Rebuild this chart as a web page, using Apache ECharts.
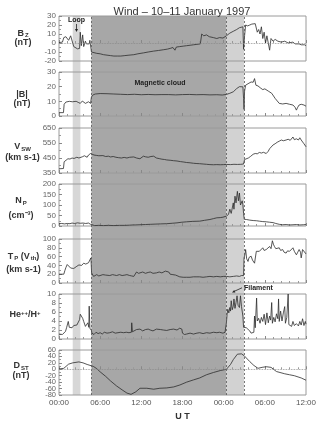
<!DOCTYPE html>
<html>
<head>
<meta charset="utf-8">
<script src="https://cdn.jsdelivr.net/npm/echarts@6/dist/echarts.min.js"></script>
<style>
html, body { margin: 0; padding: 0; background: #fff; }
#chart { width: 320px; height: 428px; }
</style>
</head>
<body>
<div id="chart"></div>
<script>
// time axis: hours from 00:00 UT, 10 January 1997
var xTickLabels = ['00:00', '06:00', '12:00', '18:00', '00:00', '06:00', '12:00'];
var dstTicks = [-80, -60, -40, -20, 0, 20, 40, 60];
var loopBand = [2.0, 3.12];
var cloudBand = [4.72, 24.4];
var sheathBand = [24.4, 26.97];

// Bz (nT)
var bz = [[0,0.5],[0.5,1],[0.7,6],[1.0,7],[1.2,8],[1.4,3],[1.7,8],[1.95,10],[2.15,-4],[2.4,-6],[2.7,-6.5],[3.0,-6],[3.1,12],[3.25,-3],[3.45,9],[3.6,-4],[3.85,2],[4.0,-1],[4.2,1],[4.4,-1],[4.5,3],[4.68,2],[4.73,-10],[5.0,-11],[5.5,-11.5],[6,-12],[6.5,-13],[7,-13.5],[7.5,-14],[8,-14.5],[8.5,-14.5],[9,-14.5],[9.6,-14],[10.2,-13.5],[10.9,-13],[11.5,-12],[12.3,-11],[13,-10],[13.8,-9],[14.5,-8.3],[15.2,-7.5],[15.8,-6.8],[16.2,-6],[16.6,-5],[16.7,-4],[16.9,-8],[17.1,-4.5],[17.6,-4],[18.1,-3.5],[18.6,-3],[19.1,-2.5],[19.6,-2],[20.1,-1.5],[20.6,-1],[20.8,10],[21.1,8],[21.5,9],[21.9,7],[22.5,6],[23.0,5],[23.4,6],[23.9,5.5],[24.4,8],[24.9,11],[25.4,13],[25.9,15],[26.3,17],[26.8,18],[26.9,-7],[27.05,8],[27.2,20],[27.5,19],[27.8,20],[28.1,21],[28.3,22],[28.6,21.5],[28.8,22],[28.9,12],[29.1,15],[29.3,10],[29.5,18],[29.7,5],[29.9,12],[30.1,0],[30.3,8],[30.5,10],[30.7,-8],[30.9,5],[31.2,2],[31.5,4],[31.7,5],[31.9,2],[32.1,3],[32.4,1],[32.6,3],[32.9,2],[33.1,2],[33.4,0],[33.6,1],[34.1,1],[34.4,-1],[34.6,0],[35.0,-1],[35.3,-2],[35.5,-1],[35.8,-2],[36,-3]];

// |B| (nT)
var bMag = [[0,2.3],[0.65,2.3],[0.75,8],[1.0,9.5],[1.2,9],[1.5,10],[1.7,9],[1.95,9.7],[2.2,9],[2.5,10],[2.8,9.3],[3.1,8.6],[3.4,10.2],[3.6,9],[3.85,8.6],[4.1,9.5],[4.3,9.7],[4.6,8.6],[4.73,13],[5.0,14.5],[5.3,15],[6,15.3],[7,15.2],[8,15],[9,14.8],[10,14.6],[11,14.8],[12,14.5],[13,14.7],[14,14.5],[15,14.6],[16,14.6],[17,14.4],[18,14.6],[19,14.7],[20,14.5],[21,14.6],[22,14.4],[23,14.5],[23.8,14.3],[24.4,14.7],[24.9,15.5],[25.4,16.5],[25.9,18.7],[26.3,20],[26.8,19.9],[26.9,12],[26.97,4.5],[27.05,17],[27.2,21],[27.55,22],[27.8,21],[28.0,23.2],[28.3,23],[28.5,25.5],[28.7,21],[29.0,20.5],[29.2,20],[29.4,19],[29.7,18],[30.0,18.5],[30.2,17.6],[30.5,17],[30.7,16.5],[31.0,15.5],[31.2,14.2],[31.5,12],[31.7,10.8],[32.1,8.6],[32.6,8.2],[33.1,8.6],[33.6,8],[34.1,7.5],[34.4,6],[34.6,4],[34.8,6],[35.0,7.5],[35.3,8],[35.5,8.6],[35.7,7.5],[36,6.7]];

// Vsw (km s-1)
var vsw = [[0,378],[0.65,380],[0.75,425],[1.0,438],[1.3,445],[1.6,443],[1.9,450],[2.2,447],[2.6,455],[2.9,450],[3.1,450],[3.4,458],[3.7,465],[3.85,472],[4.1,455],[4.3,470],[4.6,480],[4.8,478],[5.1,470],[5.5,467],[5.8,465],[6.0,462],[6.4,466],[6.8,460],[7.2,462],[7.5,457],[7.9,460],[8.3,455],[8.7,452],[9.1,450],[9.5,454],[9.9,450],[10.3,455],[10.9,457],[11.3,450],[11.8,445],[12.0,450],[12.3,462],[12.6,458],[13.0,455],[13.4,460],[13.8,462],[14.0,456],[14.2,450],[14.6,446],[15.0,442],[15.4,440],[15.7,437],[16.2,435],[16.7,432],[17.2,430],[17.7,426],[18.2,423],[18.6,420],[19.1,418],[19.6,415],[20.1,413],[20.5,412],[21.0,410],[21.5,408],[22.0,406],[22.5,405],[23.0,406],[23.5,405],[24.0,406],[24.4,407],[25.0,406],[25.5,408],[26.0,407],[26.5,408],[26.9,410],[27.05,440],[27.3,445],[27.6,450],[27.9,460],[28.1,470],[28.3,475],[28.6,480],[28.9,478],[29.2,487],[29.5,483],[29.8,488],[30.2,480],[30.5,495],[30.7,512],[30.9,520],[31.2,537],[31.5,545],[31.8,555],[32.1,562],[32.4,570],[32.7,565],[33.1,570],[33.4,575],[33.7,568],[34.1,590],[34.3,572],[34.6,578],[34.9,570],[35.1,585],[35.3,570],[35.5,575],[35.7,545],[36,525]];

// Np (cm-3)
var np = [[0,11],[0.4,12],[0.8,10],[1.2,12],[1.6,11],[1.9,14],[2.3,12],[2.7,15],[3.1,13],[3.5,14],[3.9,12],[4.3,14],[4.6,8],[4.72,3],[5.2,2],[5.8,3],[6.5,2],[7.2,3],[8.0,2],[8.8,3],[9.6,3],[10.3,4],[10.8,5],[10.9,11],[11.1,5],[11.8,6],[12.6,7],[13.3,8],[14.0,9],[14.8,10],[15.7,11],[16.5,13],[17.2,15],[17.9,18],[18.6,20],[19.5,22],[20.5,23],[21.2,27],[22.0,31],[22.5,35],[23.0,39],[23.5,40],[23.9,42],[24.4,47],[24.7,55],[24.9,80],[25.1,60],[25.4,110],[25.5,80],[25.65,142],[25.8,110],[26.0,165],[26.15,120],[26.3,157],[26.45,100],[26.6,93],[26.7,120],[26.8,101],[26.9,60],[27.0,32],[27.3,31],[27.8,28],[28.3,26],[28.8,25],[29.2,23],[29.7,21],[30.2,20],[30.7,18],[31.2,16],[31.6,12],[32.1,8],[32.6,6],[33.1,7],[33.6,5],[34.1,6],[34.6,7],[35.1,5],[35.6,6],[36,7]];

// Tp (Vth) (km s-1)
var tp = [[0,20],[0.7,20],[0.85,28],[1.0,35],[1.2,42],[1.4,38],[1.7,34],[1.9,36],[2.15,33],[2.4,35],[2.6,38],[2.9,41],[3.1,43],[3.3,40],[3.6,45],[3.9,43],[4.1,42],[4.3,46],[4.5,45],[4.65,57],[4.75,23],[5.05,15],[5.3,17],[5.5,19],[5.8,16],[6.0,17],[6.4,19],[6.8,18],[7.0,20],[7.4,17],[7.8,19],[8.1,18],[8.4,17],[8.8,19],[9.2,17],[9.6,18],[9.9,19],[10.3,17],[10.6,16],[10.9,15],[11.1,19],[11.3,25],[11.6,22],[11.8,23],[12.2,25],[12.6,22],[13.0,24],[13.3,25],[13.7,22],[14.2,23],[14.6,25],[15.0,23],[15.2,25],[15.5,27],[15.7,28],[16.0,25],[16.2,20],[16.6,19],[17.0,18],[17.2,19],[17.6,14],[18.1,13],[18.6,13],[19.1,13],[19.6,14],[20.1,14],[20.5,14],[21.0,13],[21.5,14],[22.0,15],[22.5,14],[23.0,15],[23.5,14],[24.0,15],[24.4,15],[24.9,14],[25.4,15],[25.9,16],[26.3,15],[26.6,17],[26.9,17],[26.97,57],[27.1,65],[27.2,76],[27.35,55],[27.55,49],[27.7,58],[28.0,61],[28.2,52],[28.5,45],[28.76,72],[29.0,68],[29.2,72],[29.4,75],[29.7,80],[29.9,74],[30.2,76],[30.4,72],[30.7,83],[30.9,78],[31.1,96],[31.25,88],[31.4,83],[31.6,78],[31.8,82],[32.1,80],[32.3,74],[32.6,76],[32.8,70],[33.1,68],[33.3,73],[33.6,72],[33.8,76],[34.1,80],[34.3,72],[34.6,64],[34.8,70],[35.0,76],[35.2,70],[35.3,57],[35.4,66],[35.5,76],[35.7,72],[35.9,68],[36,66]];

// He++/H+ (%)
var heRatio = [[0,1.1],[0.5,1.0],[0.7,1.2],[0.95,1.7],[1.1,2.5],[1.2,2.8],[1.35,3.9],[1.5,2.6],[1.7,2.8],[1.9,2.5],[2.15,3],[2.4,2.8],[2.6,3.1],[2.8,3.4],[3.0,4.3],[3.1,5.5],[3.3,5.1],[3.45,4.6],[3.6,3.9],[3.85,2.8],[4.0,2.4],[4.2,3.6],[4.35,2.6],[4.4,7.3],[4.5,2.4],[4.72,1.9],[4.8,1.3],[5.1,1.0],[5.4,1.5],[5.7,1.2],[6.0,1.4],[6.3,1.1],[6.6,1.5],[7.0,1.3],[7.4,1.4],[7.8,1.6],[8.2,1.3],[8.6,1.4],[9.0,1.5],[9.4,1.4],[9.8,1.5],[10.2,1.4],[10.55,1.5],[10.6,3.6],[10.7,1.6],[10.9,1.9],[11.3,2.1],[11.8,2.2],[12.2,1.8],[12.6,2.1],[13.0,2.2],[13.3,2.0],[13.7,1.8],[14.2,2.2],[14.8,2.1],[15.2,2.0],[15.7,1.9],[16.2,2.1],[16.7,2.2],[17.2,2.0],[17.6,2.4],[17.9,2.2],[18.0,1.3],[18.3,1.0],[18.6,1.1],[19.1,1.3],[19.6,1.1],[20.1,1.3],[20.5,1.4],[21.0,1.2],[21.5,1.4],[22.0,1.3],[22.5,1.5],[23.0,1.4],[23.4,1.5],[23.9,1.3],[24.2,1.5],[24.4,3.6],[24.5,5.5],[24.6,6.6],[24.75,5.8],[24.9,7.0],[25.0,6.2],[25.1,8.5],[25.25,6.5],[25.4,7.3],[25.5,8.9],[25.65,6.8],[25.8,8.1],[25.95,9.6],[26.1,7.5],[26.3,7.0],[26.45,9.6],[26.6,7.2],[26.8,5.1],[26.9,2.6],[27.1,2.8],[27.3,2.5],[27.55,2.7],[27.8,1.8],[28.0,1.3],[28.2,1.7],[28.4,1.5],[28.5,5.1],[28.6,2.5],[28.8,9.1],[28.9,4.0],[29.1,4.6],[29.3,3.5],[29.5,4.8],[29.7,3.9],[29.9,5.5],[30.1,3.2],[30.3,5.8],[30.5,3.6],[30.7,5.1],[30.85,4.2],[31.0,8.1],[31.1,3.5],[31.3,4.8],[31.5,3.8],[31.7,5.6],[31.9,4.5],[32.0,8.9],[32.1,3.9],[32.3,6.2],[32.5,4.0],[32.7,5.8],[32.9,7.2],[33.0,3.5],[33.2,4.8],[33.4,10],[33.5,3.2],[33.7,3.6],[33.9,2.8],[34.1,3.9],[34.3,3.0],[34.6,3.4],[34.9,2.9],[35.1,3.9],[35.3,3.1],[35.5,4.5],[35.7,3.0],[35.9,3.9],[36,3.3]];

// Dst (nT)
var dst = [[0,1],[0.7,3],[1.4,16],[2.0,20],[2.9,23],[3.5,20],[4.1,15],[5.0,9],[5.5,2],[6.0,-8],[6.8,-22],[7.5,-36],[8.4,-52],[9.2,-64],[9.9,-74],[10.5,-78],[11.2,-70],[11.8,-59],[12.8,-59],[13.8,-62],[14.7,-59],[15.7,-58],[16.7,-55],[17.6,-49],[18.6,-40],[19.6,-33],[20.5,-27],[21.5,-17],[22.5,-10],[23.5,-4],[24.4,0],[25.0,15],[25.4,30],[26.0,47],[26.6,48],[27.0,42],[27.8,24],[28.4,12],[29.0,3],[29.6,6],[30.2,8],[30.9,6],[31.7,-7],[32.9,-14],[33.6,-17],[34.3,-20],[35.3,-27],[36,-34]];

var chart = echarts.init(document.getElementById('chart'));

var FONT = '"Liberation Sans", Arial, sans-serif';
var LEFT = 59, WIDTH = 247;

// panel layout (pixels) and axis ranges
var panels = [
    { data: bz,      min: -20, max: 30,  step: 10,  top: 16,  height: 45, zero: true },
    { data: bMag,    min: 0,   max: 30,  step: 10,  top: 72,  height: 44 },
    { data: vsw,     min: 350, max: 650, step: 100, top: 128, height: 45 },
    { data: np,      min: 0,   max: 200, step: 50,  top: 184, height: 42 },
    { data: tp,      min: 0,   max: 100, step: 20,  top: 239, height: 44 },
    { data: heRatio, min: 0,   max: 10,  step: 2,   top: 294, height: 45 },
    { data: dst,     min: -80, max: 60,  step: 20,  top: 350, height: 45, zero: true }
];

var grids = [{ left: LEFT, width: WIDTH, top: 16, height: 379, show: false }];
var xAxes = [{ gridIndex: 0, type: 'value', min: 0, max: 36, show: false }];
var yAxes = [{ gridIndex: 0, type: 'value', min: 0, max: 1, show: false }];
var series = [{
    type: 'line', xAxisIndex: 0, yAxisIndex: 0, data: [], silent: true, z: 1,
    markArea: {
        silent: true,
        data: [
            [{ xAxis: loopBand[0], itemStyle: { color: '#d7d7d7' } }, { xAxis: loopBand[1] }],
            [{ xAxis: cloudBand[0], itemStyle: { color: '#a7a7a7' } }, { xAxis: cloudBand[1] }],
            [{ xAxis: sheathBand[0], itemStyle: { color: '#d2d2d2' } }, { xAxis: sheathBand[1] }]
        ]
    },
    markLine: {
        silent: true, symbol: 'none', animation: false,
        label: { show: false },
        lineStyle: { type: [2, 2], color: '#555', width: 0.8 },
        data: [{ xAxis: cloudBand[0] }, { xAxis: cloudBand[1] }, { xAxis: sheathBand[1] }]
    }
}];

function yLabel(extra) {
    var l = { margin: 3, fontSize: 8, color: '#666', fontFamily: FONT, showMinLabel: true, showMaxLabel: true };
    for (var k in extra) l[k] = extra[k];
    return l;
}

panels.forEach(function (p, i) {
    var g = i + 1;
    var last = i === panels.length - 1;
    grids.push({
        left: LEFT, width: WIDTH, top: p.top, height: p.height,
        show: true, borderColor: '#9a9a9a', borderWidth: 1, z: 2
    });
    xAxes.push({
        gridIndex: g, type: 'value', min: 0, max: 36, interval: 6, z: 2,
        axisLine: { show: false },
        axisTick: { show: true, inside: true, length: 3, lineStyle: { color: '#888' } },
        minorTick: { show: true, splitNumber: 5, length: 2, lineStyle: { color: '#999' } },
        splitLine: { show: false },
        axisLabel: {
            show: last, margin: 4, fontSize: 8, color: '#555', fontFamily: FONT,
            formatter: function (v) { return xTickLabels[Math.round(v / 6)]; }
        },
        name: last ? 'U T' : '',
        nameLocation: 'middle', nameGap: 17,
        nameTextStyle: { fontSize: 9, fontWeight: 'bold', color: '#333', fontFamily: FONT }
    });
    yAxes.push({
        gridIndex: g, type: 'value', min: p.min, max: p.max, interval: p.step, z: 2,
        axisLine: { show: false },
        axisTick: { show: true, inside: true, length: 3, lineStyle: { color: '#888' } },
        minorTick: { show: true, splitNumber: 2, length: 2, lineStyle: { color: '#999' } },
        splitLine: { show: false },
        axisLabel: last
            ? yLabel({ fontSize: 7.5, customValues: dstTicks.filter(function (v, k) { return k % 2 === 0; }) })
            : yLabel({})
    });
    var s = {
        type: 'line', xAxisIndex: g, yAxisIndex: g, data: p.data, z: 3,
        showSymbol: false, animation: false, silent: true,
        lineStyle: { width: 0.8, color: '#2c2c2c' }
    };
    if (p.zero) {
        s.markLine = {
            silent: true, symbol: 'none', animation: false, label: { show: false },
            lineStyle: { type: 'dotted', color: '#888', width: 0.8 },
            data: [{ yAxis: 0 }]
        };
    }
    series.push(s);
});

// Dst labels are packed tightly: the other half goes on a twin axis
yAxes.push({
    gridIndex: panels.length, type: 'value', min: -80, max: 60, position: 'left', z: 2,
    axisLine: { show: false }, axisTick: { show: false }, splitLine: { show: false },
    axisLabel: yLabel({ fontSize: 7.5, customValues: dstTicks.filter(function (v, k) { return k % 2 === 1; }) })
});

// panel names on the left
function axisName(text, x, y, lh) {
    return {
        type: 'text', x: x, y: y, z: 10, silent: true,
        style: {
            text: text, align: 'center', verticalAlign: 'middle', fill: '#333',
            rich: {
                b: { fontSize: 9, fontWeight: 'bold', fontFamily: FONT, fill: '#333', lineHeight: lh },
                s: { fontSize: 6, fontWeight: 'bold', fontFamily: FONT, fill: '#333', padding: [4, 0, 0, 1] },
                u: { fontSize: 6, fontWeight: 'bold', fontFamily: FONT, fill: '#333', padding: [0, 0, 4, 0] }
            }
        }
    };
}
function note(text, x, y, align) {
    return {
        type: 'text', x: x, y: y, z: 10, silent: true,
        style: {
            text: text, align: align, verticalAlign: 'middle', fill: '#222',
            font: 'bold 7px ' + FONT
        }
    };
}

var graphics = [
    axisName('{b|B}{s|Z}\n{b|(nT)}', 23, 38, 9),
    axisName('{b||B|}\n{b|(nT)}', 22, 99.5, 9),
    axisName('{b|V}{s|SW}\n{b|(km s-1)}', 22.5, 152.5, 11),
    axisName('{b|N}{s|P}\n{b|(cm⁻³)}', 21, 208.5, 15),
    axisName('{b|T}{s|P}{b| (V}{s|th}{b|)}\n{b|(km s-1)}', 23.5, 263, 13),
    axisName('{b|He}{u|++}{b|/H}{u|+}', 25, 315, 10),
    axisName('{b|D}{s|ST}\n{b|(nT)}', 21, 371, 10),
    note('Loop', 76.5, 20, 'center'),
    { type: 'line', z: 10, silent: true, shape: { x1: 76.5, y1: 24, x2: 76.5, y2: 30 }, style: { stroke: '#222', lineWidth: 0.8 } },
    { type: 'polygon', z: 10, silent: true, shape: { points: [[75, 29], [78, 29], [76.5, 32]] }, style: { fill: '#222' } },
    note('Magnetic cloud', 160, 83.5, 'center'),
    note('Filament', 244, 288, 'left'),
    { type: 'line', z: 10, silent: true, shape: { x1: 242, y1: 287.8, x2: 234.5, y2: 291.2 }, style: { stroke: '#222', lineWidth: 0.8 } },
    { type: 'polygon', z: 10, silent: true, shape: { points: [[232, 292.4], [235.4, 292.6], [234.2, 289.9]] }, style: { fill: '#222' } }
];

chart.setOption({
    animation: false,
    backgroundColor: '#fff',
    title: {
        text: 'Wind – 10–11 January 1997',
        left: 177, top: 1, textAlign: 'center',
        textStyle: { fontSize: 11, fontWeight: 'normal', color: '#333', fontFamily: FONT }
    },
    grid: grids,
    xAxis: xAxes,
    yAxis: yAxes,
    series: series,
    graphic: graphics
});
</script>
</body>
</html>
